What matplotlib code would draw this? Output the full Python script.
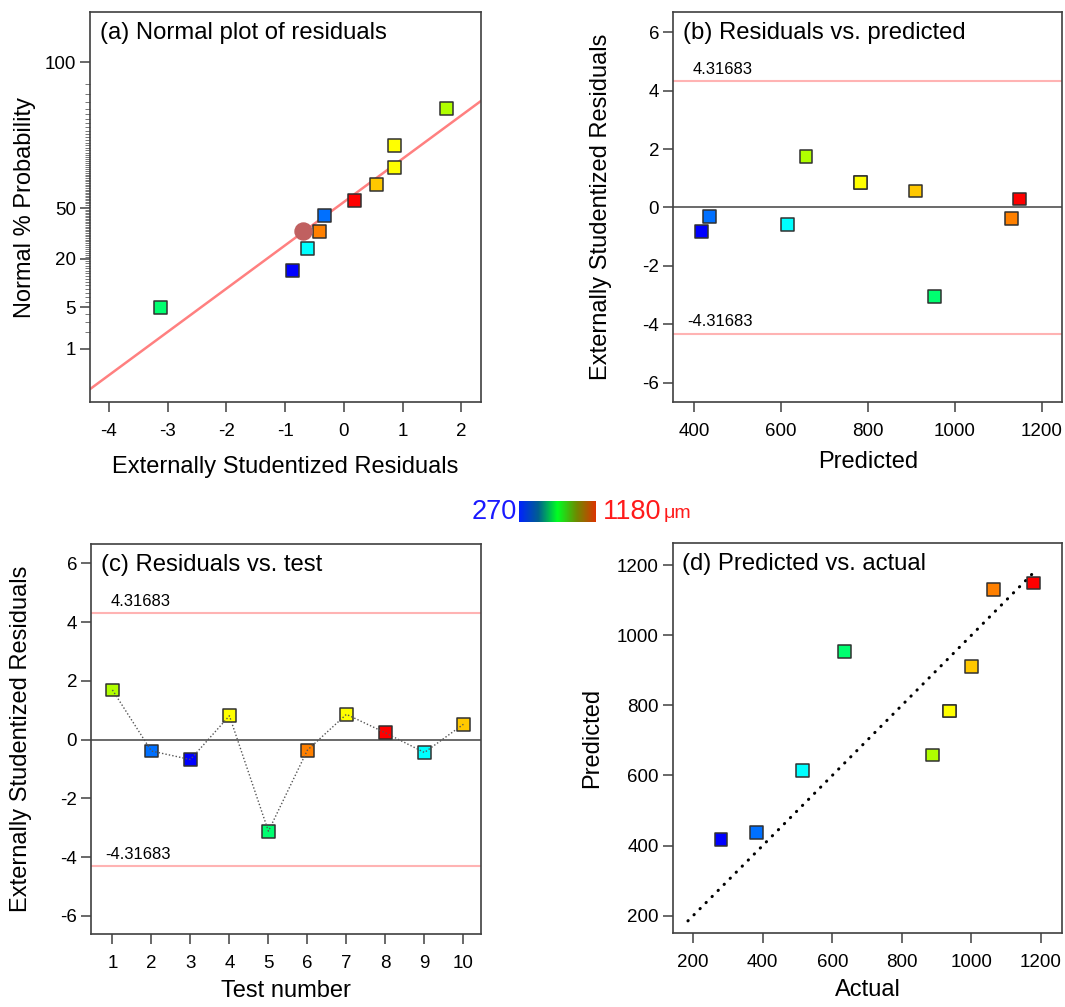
import math
import numpy as np
import matplotlib
matplotlib.use("Agg")
from matplotlib import pyplot as plt
from matplotlib.colors import LinearSegmentedColormap

plt.rcParams['font.family'] = ['Liberation Sans', 'DejaVu Sans']
plt.rcParams['axes.unicode_minus'] = False

# DATA
tests = [1, 2, 3, 4, 5, 6, 7, 8, 9, 10]
actual = [888, 382, 280, 938, 635, 1063, 938, 1178, 515, 999]
predicted = [658, 436, 418, 784, 953, 1131, 784, 1149, 615, 910]
resid_b = [1.73, -0.30, -0.82, 0.86, -3.04, -0.39, 0.86, 0.29, -0.59, 0.56]
resid_c = [1.69, -0.39, -0.68, 0.81, -3.12, -0.36, 0.86, 0.23, -0.44, 0.52]
# normal plot: residual and normal % probability
resid_a = [-3.12, -0.88, -0.62, -0.42, -0.33, 0.18, 0.55, 0.86, 0.86, 1.74]
prob_a = [5, 15, 25, 35, 45, 55, 65, 75, 85, 95]
colors_a = ['#00ff70', '#0000ff', '#00ffff', '#ff8000', '#0070ff',
            '#ff0000', '#ffc800', '#ffff00', '#ffff00', '#b0ff00']
circle_x, circle_p = -0.70, 35
line_slope, line_x0 = 0.717, -0.14
limit_t = 4.31683
prob_ticks = [1, 5, 20, 50, 99.2]
prob_labels = ['1', '5', '20', '50', '100']
cb_min, cb_max = 270, 1180

# colour of each test run
colors = ['#b0ff00', '#0070ff', '#0000ff', '#ffff00', '#00ff70',
          '#ff8000', '#ffff00', '#ff0000', '#00ffff', '#ffc800']


def ppf(p):
    # inverse normal cdf by bisection
    lo, hi = -10.0, 10.0
    for _ in range(80):
        mid = (lo + hi) / 2
        if 0.5 * (1 + math.erf(mid / math.sqrt(2))) < p:
            lo = mid
        else:
            hi = mid
    return (lo + hi) / 2


spine_c = '#404040'
tick_fs = 13.5
lab_fs = 17


def style(ax):
    for s in ax.spines.values():
        s.set_color(spine_c)
        s.set_linewidth(1.2)
    ax.tick_params(direction='out', length=7, width=1.1, color=spine_c,
                   labelsize=tick_fs, pad=3)
    ax.tick_params(axis='x', pad=8)


def title(ax, s):
    ax.text(0.025, 0.975, s, transform=ax.transAxes, ha='left', va='top',
            fontsize=17.2)


def limits(ax):
    ax.axhline(limit_t, color='#ffb3b3', lw=1.5, zorder=1)
    ax.axhline(-limit_t, color='#ffb3b3', lw=1.5, zorder=1)
    ax.axhline(0, color='#505050', lw=1.2, zorder=1)
    ax.annotate('%.5f' % limit_t, (0.205, limit_t), xycoords=('axes fraction', 'data'),
                xytext=(0, 3), textcoords='offset points', ha='right', va='bottom', fontsize=12)
    ax.annotate('%.5f' % -limit_t, (0.205, -limit_t), xycoords=('axes fraction', 'data'),
                xytext=(0, 3), textcoords='offset points', ha='right', va='bottom', fontsize=12)


mk = dict(marker='s', s=85, edgecolors='#303030', linewidths=1.1, zorder=3)

fig = plt.figure(figsize=(10.65, 10.07), dpi=100)

# (a) Normal plot of residuals
ax = fig.add_axes([0.0845, 0.6008, 0.367, 0.387])
style(ax)
xx = np.array([-4.32, 2.33])
ax.plot(xx, line_slope * (xx - line_x0), color='#ff8080', lw=1.8, zorder=2)
ax.scatter(resid_a, [ppf(p / 100) for p in prob_a], c=colors_a, **mk)
ax.scatter([circle_x], [ppf(circle_p / 100)], marker='o', s=150, color='#c06060', zorder=4)
ax.set_xlim(-4.32, 2.33)
ax.set_ylim(-3.21, 3.24)
ax.set_yticks([ppf(p / 100) for p in prob_ticks])
ax.set_yticklabels(prob_labels)
ax.set_yticks([ppf(p / 100) for p in range(2, 99) if p not in prob_ticks], minor=True)
ax.tick_params(axis='y', which='minor', length=3.5, width=0.6, color='#606060')
ax.set_xticks(range(-4, 3))
ax.set_xlabel('Externally Studentized Residuals', fontsize=lab_fs, labelpad=12)
ax.set_ylabel('Normal % Probability', fontsize=lab_fs, labelpad=6)
title(ax, '(a) Normal plot of residuals')

# (b) Residuals vs predicted
ax = fig.add_axes([0.632, 0.6011, 0.3656, 0.3867])
style(ax)
limits(ax)
ax.scatter(predicted, resid_b, c=colors, **mk)
ax.set_xlim(352, 1248)
ax.set_ylim(-6.65, 6.68)
ax.set_xticks(range(400, 1201, 200))
ax.set_yticks(range(-6, 7, 2))
ax.set_xlabel('Predicted', fontsize=lab_fs, labelpad=8)
ax.set_ylabel('Externally Studentized Residuals', fontsize=lab_fs, labelpad=22)
title(ax, '(b) Residuals vs. predicted')

# (c) Residuals vs test number
ax = fig.add_axes([0.0854, 0.0725, 0.3662, 0.3873])
style(ax)
limits(ax)
ax.scatter(tests, resid_c, c=colors, **mk)
ax.plot(tests, resid_c, color='#555555', lw=1, ls=(0, (1, 1.5)), zorder=4)
ax.set_xlim(0.45, 10.45)
ax.set_ylim(-6.62, 6.66)
ax.set_xticks(tests)
ax.set_yticks(range(-6, 7, 2))
ax.set_xlabel('Test number', fontsize=lab_fs, labelpad=6)
ax.set_ylabel('Externally Studentized Residuals', fontsize=lab_fs, labelpad=20)
title(ax, '(c) Residuals vs. test')

# (d) Predicted vs actual
ax = fig.add_axes([0.6316, 0.0737, 0.3658, 0.3867])
style(ax)
dl = np.array([185, 1185])
ax.plot(dl, dl, color='black', lw=2.2, ls=(0, (0.1, 2.7)), dash_capstyle='round', zorder=2)
ax.scatter(actual, predicted, c=colors, **mk)
ax.set_xlim(141, 1261)
ax.set_ylim(151, 1262)
ax.set_xticks(range(200, 1201, 200))
ax.set_yticks(range(200, 1201, 200))
ax.set_xlabel('Actual', fontsize=lab_fs, labelpad=6)
ax.set_ylabel('Predicted', fontsize=lab_fs, labelpad=10)
title(ax, '(d) Predicted vs. actual')

# colour bar
cmap = LinearSegmentedColormap.from_list('cb', ['#0022ff', '#005f90', '#00ff22', '#6e8a00', '#dd3300'])
cax = fig.add_axes([0.4873, 0.4816, 0.0723, 0.0209])
cax.imshow(np.linspace(0, 1, 256)[None, :], aspect='auto', cmap=cmap,
           extent=[cb_min, cb_max, 0, 1])
cax.set_xticks([])
cax.set_yticks([])
for s in cax.spines.values():
    s.set_visible(False)
fig.text(0.4855, 0.4918, str(cb_min), color='#1a1aff', fontsize=19.5, ha='right', va='center')
fig.text(0.5665, 0.4918, str(cb_max), color='#ff1a1a', fontsize=19.5, ha='left', va='center')
fig.text(0.6235, 0.4905, 'μm', color='#ff1a1a', fontsize=14, ha='left', va='center')

fig.savefig('out.png', dpi=100)
